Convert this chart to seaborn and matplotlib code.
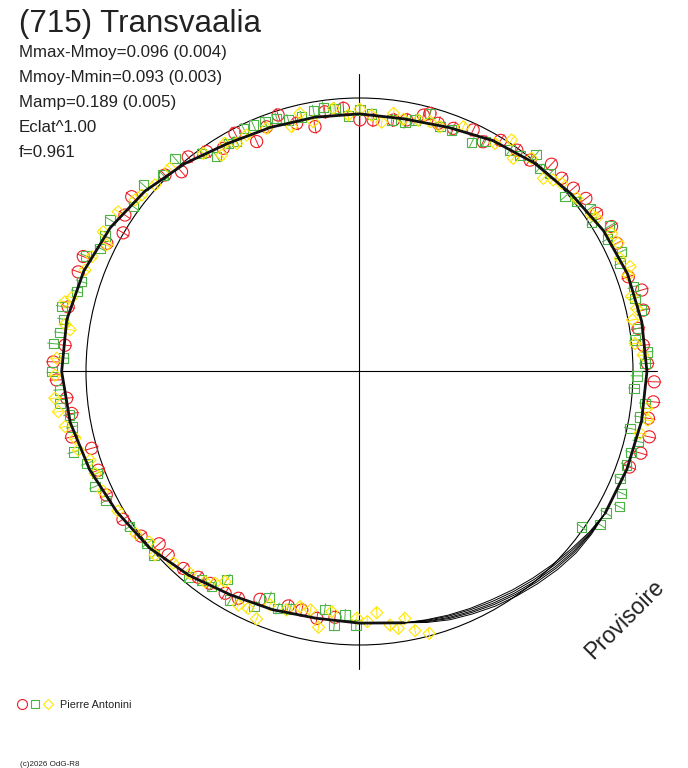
import numpy as np
import pandas as pd
import seaborn as sns
import matplotlib.pyplot as plt
from matplotlib.patches import Circle
from matplotlib.collections import LineCollection

# polar lightcurve of (715) Transvaalia
# phase as angle in degrees (0 at top, clockwise), brightness relative to mean circle

red_phase = [0.1, 3.1, 7.7, 10.6, 14.0, 15.3, 17.6, 21.1, 25.2, 28.3,
             31.4, 35.4, 38.9, 42.8, 46.3, 49.4, 52.6, 56.3, 60.1, 63.5,
             70.6, 73.9, 77.8, 81.2, 84.7, 88.4, 92.0, 95.9, 99.2, 102.7, 106.2, 109.5,
             185.7, 189.8, 193.6, 196.9, 203.6, 208.1, 211.2, 215.2, 218.1, 221.8, 226.2, 229.3,
             233.0, 238.0, 244.0, 249.3, 254.0, 257.2, 261.7, 264.8, 268.4, 271.8, 275.1,
             282.5, 289.5, 292.6, 296.9, 300.4, 303.7, 307.5, 315.3, 318.3, 321.4,
             325.2, 328.6, 332.4, 335.9, 339.2, 342.4, 345.8, 349.7, 352.4, 356.5]
red_flux = [0.920, 0.921, 0.928, 0.936, 0.966, 0.978, 0.952, 0.953, 0.976, 0.954,
            0.990, 0.993, 0.993, 1.033, 1.023, 1.030, 1.042, 1.042, 1.063, 1.051,
            1.042, 1.074, 1.062, 1.031, 1.042, 1.053, 1.078, 1.080, 1.070, 1.086, 1.071, 1.047,
            0.903, 0.916, 0.897, 0.896, 0.909, 0.940, 0.948, 0.948, 0.956, 0.966, 0.969, 0.966,
            1.000, 1.020, 1.030, 1.021, 1.019, 1.079, 1.063, 1.075, 1.108, 1.120, 1.081,
            1.091, 1.091, 1.094, 1.036, 1.002, 1.031, 1.050, 1.011, 0.978, 1.004,
            0.979, 0.956, 0.983, 0.921, 0.957, 0.984, 0.936, 0.910, 0.958, 0.964]

green_phase = [0.1, 2.7, 7.3, 10.4, 12.4, 15.3, 18.2, 20.9, 26.1, 28.6,
               34.2, 36.6, 39.1, 41.5, 43.9, 49.6, 52.0, 54.7, 57.2, 59.8, 61.9,
               65.4, 67.4, 72.8, 75.1, 77.7, 81.2, 83.5, 86.1, 88.4, 90.9, 93.5, 96.4,
               99.2, 101.9, 104.1, 106.6, 109.3, 112.3, 114.9, 117.5, 119.9, 122.5, 125.0,
               180.8, 183.4, 185.7, 188.3, 196.3, 199.1, 201.8, 204.2, 209.5, 212.5, 214.5,
               217.1, 219.8, 228.2, 231.0, 236.0, 243.0, 246.5, 248.8, 251.4, 254.3,
               259.1, 261.5, 263.9, 266.5, 270.0, 272.6, 275.2, 277.4, 280.0, 282.3,
               285.8, 287.9, 292.9, 295.4, 298.0, 301.3, 306.1, 310.8, 315.0, 319.1,
               324.1, 326.4, 330.1, 331.9, 334.5, 336.7, 339.3, 341.9, 344.2, 347.2,
               350.0, 352.2, 354.7, 357.5]
green_flux = [0.956, 0.942, 0.927, 0.925, 0.942, 0.978, 0.942, 0.945, 0.932, 0.957,
              0.979, 0.985, 1.023, 0.992, 1.005, 0.986, 1.008, 1.033, 1.010, 1.057, 1.027,
              1.054, 1.031, 1.048, 1.042, 1.056, 1.031, 1.014, 1.055, 1.044, 1.014, 1.006, 1.050,
              1.039, 1.011, 1.051, 1.036, 1.035, 1.029, 1.057, 1.071, 1.039, 1.043, 0.992,
              0.927, 0.892, 0.932, 0.879, 0.905, 0.917, 0.889, 0.942, 0.960, 0.901, 0.954,
              0.956, 0.977, 1.007, 1.000, 1.015, 1.040, 1.055, 1.030, 1.052, 1.087,
              1.071, 1.073, 1.101, 1.100, 1.125, 1.084, 1.124, 1.104, 1.100, 1.114,
              1.074, 1.068, 1.086, 1.050, 1.054, 1.067, 1.023, 1.044, 1.015, 1.031,
              0.985, 0.943, 0.962, 0.953, 0.985, 0.981, 0.977, 0.974, 0.956, 0.955,
              0.968, 0.975, 0.966, 0.935]

yellow_phase = [0.1, 2.7, 5.1, 7.5, 9.9, 13.2, 15.8, 18.2, 23.0, 30.7,
                33.3, 35.8, 38.9, 43.6, 45.3, 47.1, 51.4, 56.0, 57.1, 61.3, 63.6,
                66.5, 68.8, 70.3, 74.6, 77.2, 79.3, 84.2, 86.7, 97.3, 99.6, 102.4,
                165.1, 167.9, 169.6, 171.4, 173.1, 175.9, 178.2, 180.6, 186.6, 189.1,
                191.6, 194.2, 197.0, 201.0, 202.6, 205.2, 207.4, 212.6, 214.3, 216.3,
                220.0, 224.2, 228.1, 231.0, 234.0, 240.0, 245.0, 248.9, 251.8, 254.4,
                256.8, 259.4, 262.4, 265.0, 269.3, 272.5, 278.2, 279.1, 283.3, 284.4,
                290.3, 293.2, 296.6, 298.6, 303.5, 307.4, 309.0, 312.4, 317.0,
                324.4, 327.5, 329.5, 331.7, 334.5, 339.1, 344.5, 347.0, 349.5, 354.3, 357.5]
yellow_flux = [0.959, 0.938, 0.915, 0.952, 0.936, 0.944, 0.949, 0.942, 0.972, 0.970,
               1.013, 0.961, 1.002, 0.975, 0.996, 1.010, 1.016, 1.024, 1.032, 1.051, 1.056,
               1.038, 1.061, 1.044, 1.032, 1.039, 1.016, 1.013, 1.039, 1.059, 1.069, 1.050,
               0.991, 0.969, 0.918, 0.950, 0.934, 0.884, 0.915, 0.902, 0.884, 0.947,
               0.890, 0.887, 0.912, 0.914, 0.980, 0.957, 0.962, 0.912, 0.937, 0.954,
               0.964, 0.977, 1.004, 0.990, 1.010, 1.020, 1.035, 1.036, 1.037, 1.067,
               1.068, 1.095, 1.111, 1.118, 1.113, 1.108, 1.069, 1.090, 1.107, 1.086,
               1.070, 1.065, 1.034, 1.067, 1.058, 1.033, 1.025, 1.012, 1.016,
               0.981, 0.938, 0.969, 0.947, 0.958, 0.952, 0.929, 0.969, 0.929, 0.967, 0.939]

# fitted model, every 10 degrees
fit_phase = list(range(0, 360, 10))
fit_flux = [0.942, 0.938, 0.950, 0.975, 0.995, 1.010, 1.030, 1.043, 1.048, 1.051,
            1.047, 1.041, 1.037, 1.022, 1.000, 0.978, 0.957, 0.933, 0.920, 0.916,
            0.927, 0.943, 0.972, 1.003, 1.025, 1.050, 1.074, 1.089, 1.087, 1.073,
            1.052, 1.025, 0.993, 0.963, 0.950, 0.944]
# the models split up where there is no data (every 5 degrees there)
gap_phase = [125, 130, 135, 140, 145, 150, 155, 160, 165]
gap_model_1 = [1.036, 1.033, 1.024, 1.013, 1.002, 0.991, 0.978, 0.966, 0.950]
gap_model_2 = [1.033, 1.027, 1.017, 1.006, 0.995, 0.984, 0.972, 0.961, 0.947]
gap_model_3 = [1.031, 1.022, 1.011, 1.000, 0.989, 0.978, 0.967, 0.957, 0.945]
gap_model_4 = [1.028, 1.016, 1.004, 0.993, 0.982, 0.971, 0.961, 0.952, 0.942]
gap_model_5 = [1.025, 1.010, 0.998, 0.986, 0.975, 0.964, 0.956, 0.948, 0.940]

err_red, err_green, err_yellow = 0.026, 0.022, 0.020

RED, GREEN, YELLOW = "#ee1c24", "#4cb446", "#ffe600"
INK = "#222222"


def to_xy(phase, flux):
    t = np.radians(np.asarray(phase, float))
    f = np.asarray(flux, float)
    return f * np.sin(t), f * np.cos(t)


def frame(phase, flux):
    x, y = to_xy(phase, flux)
    return pd.DataFrame({"x": x, "y": y})


sns.set_theme(style="white")
plt.rcParams["font.family"] = ["Liberation Sans", "DejaVu Sans"]

fig = plt.figure(figsize=(6.88, 7.68), dpi=100)
ax = fig.add_axes([0, 0, 1, 1])
R = 273.5
ax.set_xlim(-359.5 / R, (688 - 359.5) / R)
ax.set_ylim(-(768 - 371.5) / R, 371.5 / R)
ax.axis("off")

# mean circle and cross
ax.add_patch(Circle((0, 0), 1.0, fill=False, ec="black", lw=0.8, zorder=1))
ax.plot([0, 0], [-1.088, 1.088], color="black", lw=0.8, zorder=1)
ax.plot([-1.088, 1.088], [0, 0], color="black", lw=0.8, zorder=1)

# data points with radial error bars
series = [(red_phase, red_flux, RED, "o", 76, err_red),
          (green_phase, green_flux, GREEN, "s", 46, err_green),
          (yellow_phase, yellow_flux, YELLOW, "D", 38, err_yellow)]
for ph, fl, col, mk, size, err in series:
    lo = np.asarray(fl) - err
    hi = np.asarray(fl) + err
    x0, y0 = to_xy(ph, lo)
    x1, y1 = to_xy(ph, hi)
    segs = [[(a, b), (c, d)] for a, b, c, d in zip(x0, y0, x1, y1)]
    ax.add_collection(LineCollection(segs, colors=col, lw=0.7, zorder=2))
    sns.scatterplot(data=frame(ph, fl), x="x", y="y", marker=mk, s=size,
                    facecolors="none", edgecolor=col, linewidth=0.8,
                    ax=ax, zorder=2, legend=False)

# models: fit points outside the gap, model points inside it
outside = [(p, f) for p, f in zip(fit_phase, fit_flux)
           if not gap_phase[0] <= p <= gap_phase[-1]]
for gm in [gap_model_1, gap_model_2, gap_model_3, gap_model_4, gap_model_5]:
    pts = sorted(outside + list(zip(gap_phase, gm)))
    pts.append((pts[0][0] + 360, pts[0][1]))
    sns.lineplot(data=frame([p for p, _ in pts], [f for _, f in pts]), x="x", y="y",
                 sort=False, estimator=None, color="black", lw=0.7, ax=ax, zorder=3)

# bold part of the model over the covered phases
order = list(range(17, 36)) + list(range(0, 13))
bold = frame([fit_phase[i] for i in order], [fit_flux[i] for i in order])
sns.lineplot(data=bold, x="x", y="y", sort=False, estimator=None,
             color="#111111", lw=2.0, ax=ax, zorder=3)


def px(x, y):
    return x / 688, 1 - y / 768


fig.text(*px(19, 32), "(715) Transvaalia", fontsize=22.5, color=INK, va="baseline")
stats = ["Mmax-Mmoy=0.096 (0.004)", "Mmoy-Mmin=0.093 (0.003)",
         "Mamp=0.189 (0.005)", "Eclat^1.00", "f=0.961"]
for k, s in enumerate(stats):
    fig.text(*px(19, 57 + 25 * k), s, fontsize=12.2, color=INK, va="baseline")

fig.text(*px(625, 619), "Provisoire", fontsize=16.5, color=INK, rotation=45,
         ha="center", va="center", rotation_mode="anchor")

# observer key
ax.plot(*px(22, 704), marker="o", ms=7.2, mfc="none", mec=RED, mew=0.8,
        transform=ax.transAxes, clip_on=False)
ax.plot(*px(35, 704), marker="s", ms=5.8, mfc="none", mec=GREEN, mew=0.8,
        transform=ax.transAxes, clip_on=False)
ax.plot(*px(47.5, 704), marker="D", ms=5.6, mfc="none", mec=YELLOW, mew=0.8,
        transform=ax.transAxes, clip_on=False)
fig.text(*px(60, 708.5), "Pierre Antonini", fontsize=7.8, color=INK, va="baseline")
fig.text(*px(20, 765.5), "(c)2026 OdG-R8", fontsize=5.8, color=INK, va="baseline")

fig.savefig("out.png", dpi=100)
